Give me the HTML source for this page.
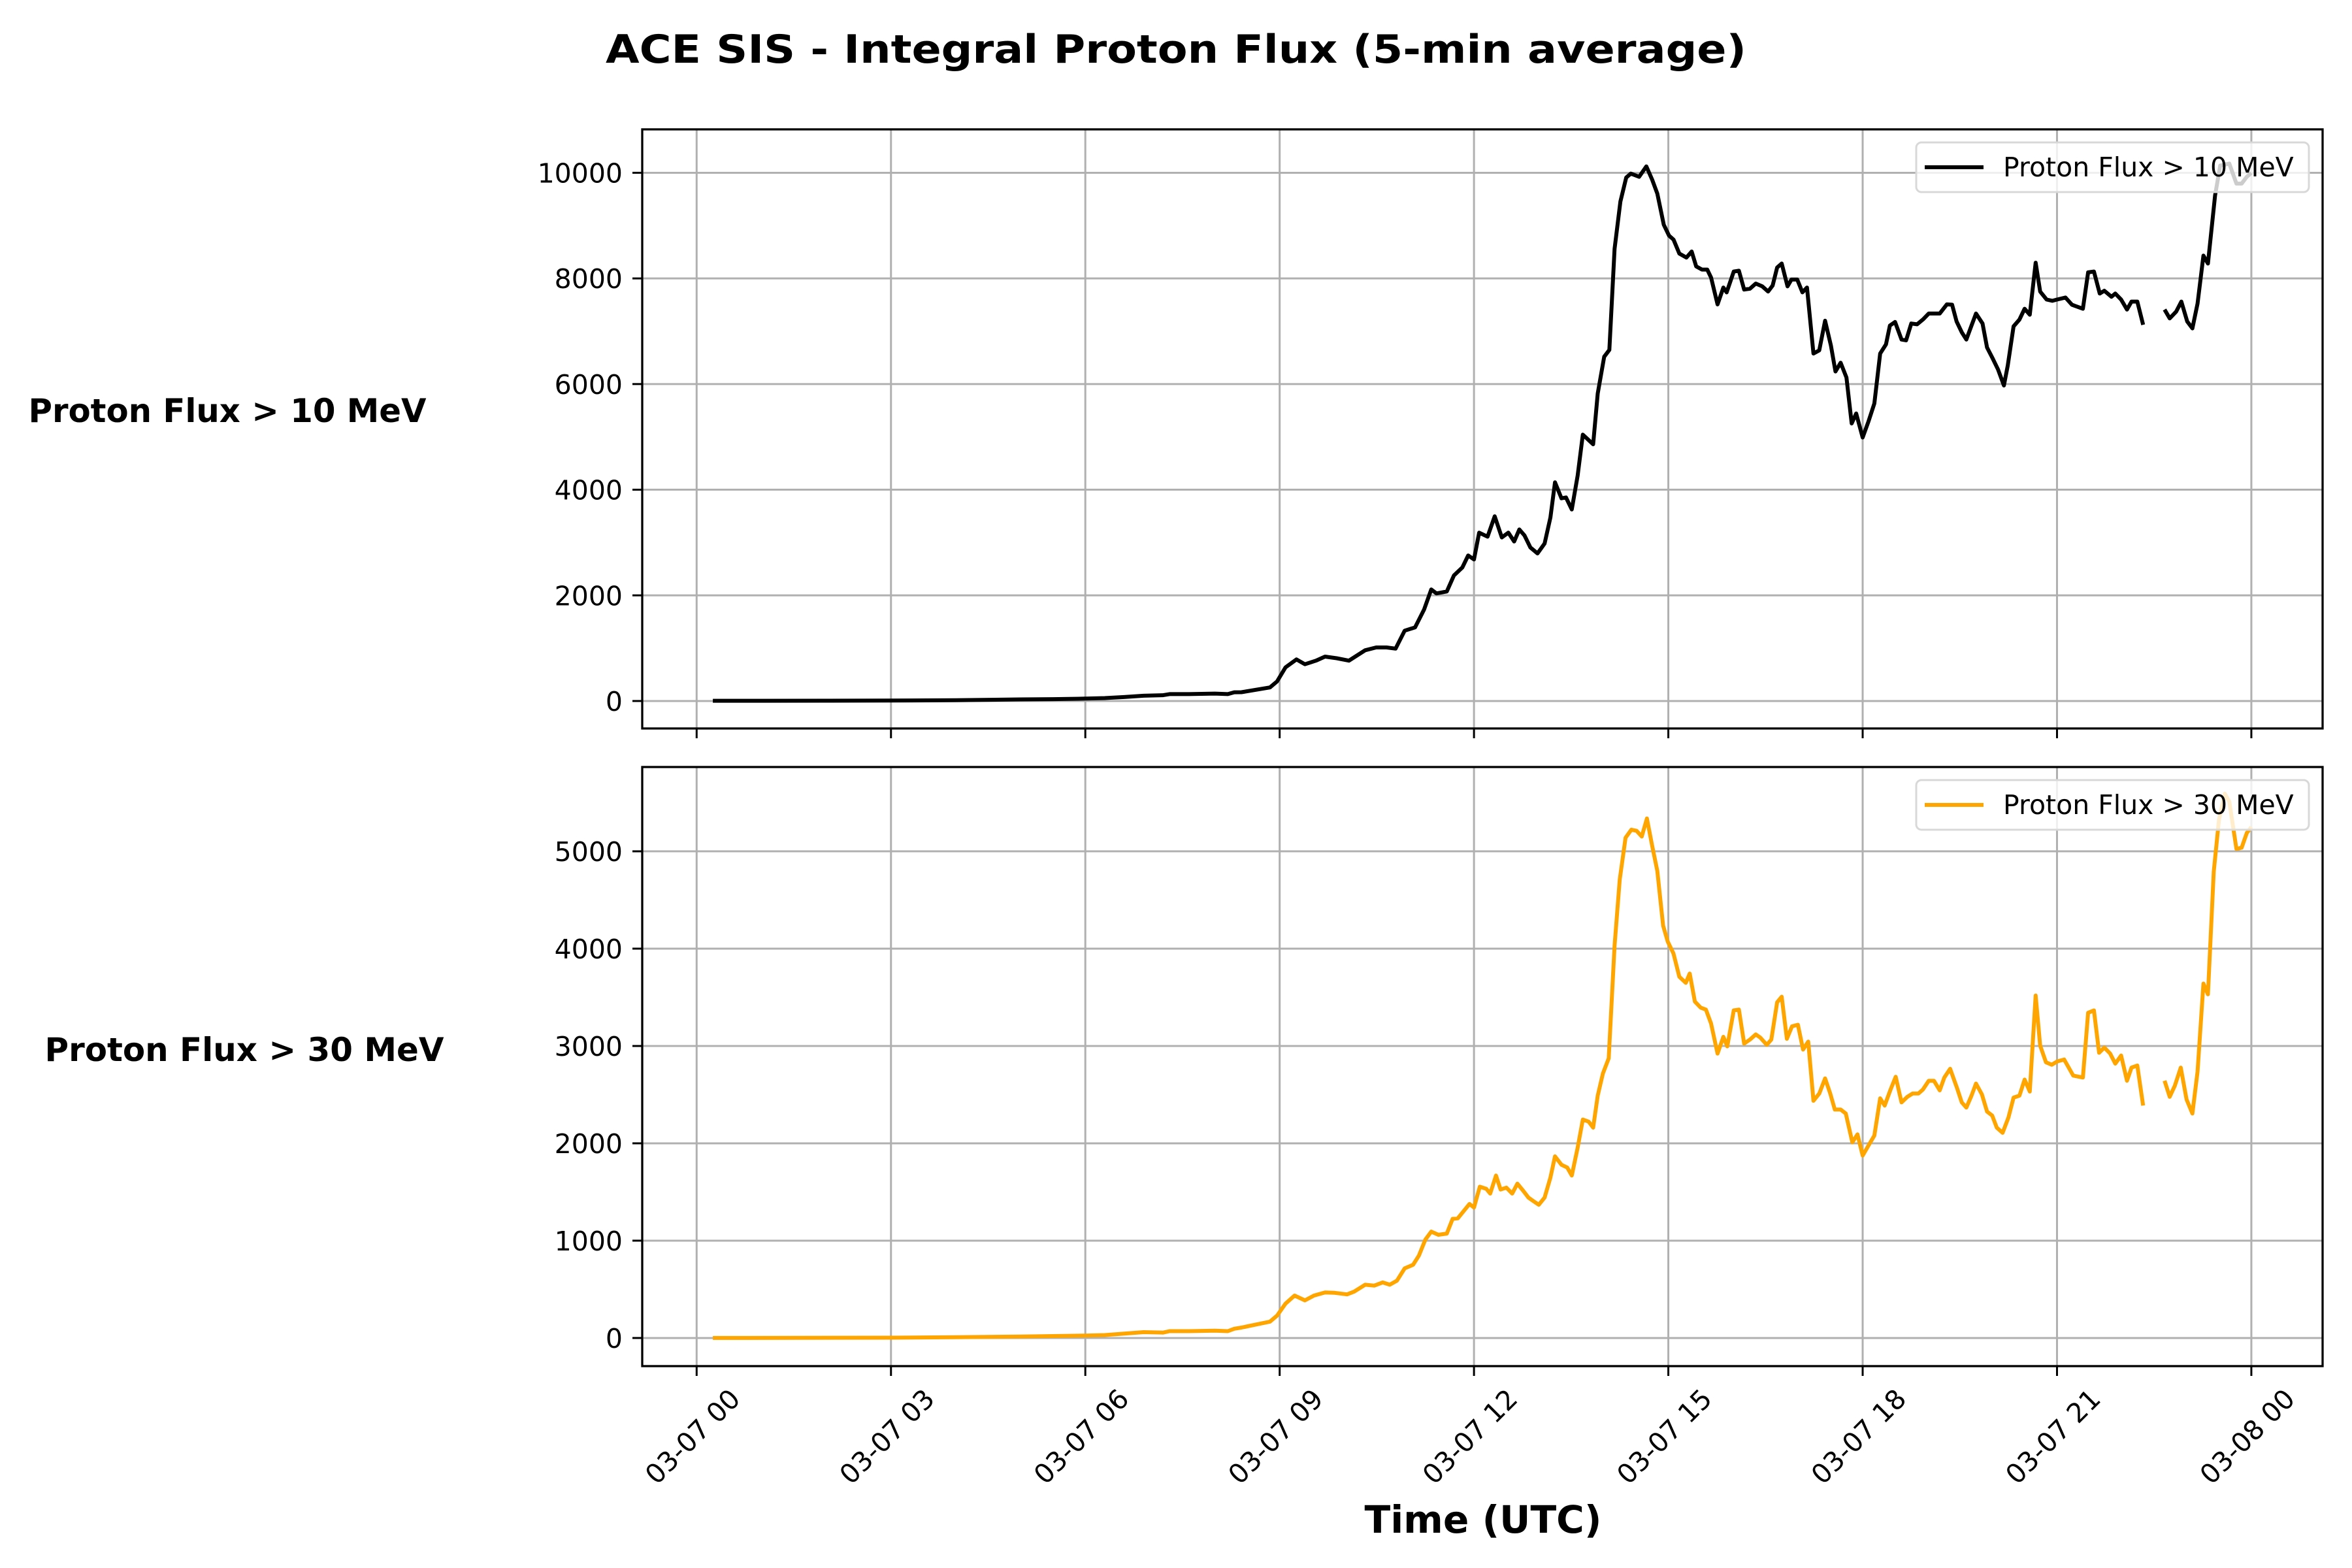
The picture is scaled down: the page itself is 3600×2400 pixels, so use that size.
<!DOCTYPE html>
<html><head><meta charset="utf-8">
<style>
html,body{margin:0;padding:0;background:#fff;}
svg{display:block;font-family:"DejaVu Sans","Liberation Sans",sans-serif;}
</style></head>
<body>
<svg id="chart" width="3600" height="2400" viewBox="0 0 3600 2400" xmlns="http://www.w3.org/2000/svg">
<rect width="3600" height="2400" fill="#fff"/>
<text x="1800" y="96" text-anchor="middle" font-size="60" font-weight="bold" textLength="1746" lengthAdjust="spacingAndGlyphs">ACE SIS - Integral Proton Flux (5-min average)</text>
<text x="348" y="646" text-anchor="middle" font-size="50" font-weight="bold" textLength="609" lengthAdjust="spacingAndGlyphs">Proton Flux &gt; 10 MeV</text>
<text x="374" y="1624" text-anchor="middle" font-size="50" font-weight="bold" textLength="611" lengthAdjust="spacingAndGlyphs">Proton Flux &gt; 30 MeV</text>
<text x="2270" y="2346" text-anchor="middle" font-size="58" font-weight="bold" textLength="363" lengthAdjust="spacingAndGlyphs">Time (UTC)</text>
<g id="top"></g>
<g id="bot"></g>
</svg>
<script>
const xTickHours = [0,3,6,9,12,15,18,21,24];
const xTickLabels = ["03-07 00","03-07 03","03-07 06","03-07 09","03-07 12","03-07 15","03-07 18","03-07 21","03-08 00"];
const topTicks = [0,2000,4000,6000,8000,10000];
const botTicks = [0,1000,2000,3000,4000,5000];

const hours10 = [0.25,1,2,3,4,5,5.5,6,6.3,6.6,6.9,7.2,7.3,7.6,8,8.2,8.3,8.41,8.85,8.96,9.09,9.26,9.39,9.56,9.70,9.88,10.07,10.32,10.49,10.65,10.79,10.93,11.09,11.23,11.34,11.42,11.58,11.69,11.82,11.91,12.0,12.08,12.21,12.32,12.43,12.53,12.62,12.70,12.78,12.87,12.98,13.09,13.18,13.25,13.35,13.42,13.51,13.60,13.68,13.84,13.91,14.01,14.09,14.17,14.26,14.35,14.42,14.55,14.66,14.75,14.83,14.93,15.01,15.08,15.17,15.28,15.36,15.43,15.52,15.60,15.66,15.76,15.85,15.90,16.01,16.09,16.17,16.26,16.35,16.45,16.54,16.61,16.68,16.75,16.84,16.90,16.99,17.07,17.14,17.24,17.33,17.42,17.51,17.58,17.66,17.75,17.83,17.90,18.0,18.09,18.18,18.27,18.36,18.42,18.50,18.60,18.67,18.75,18.84,18.93,19.02,19.10,19.19,19.30,19.38,19.45,19.53,19.60,19.68,19.75,19.85,19.92,20.0,20.09,20.18,20.24,20.33,20.42,20.50,20.58,20.67,20.74,20.84,20.93,21.0,21.13,21.23,21.40,21.48,21.57,21.66,21.73,21.84,21.90,21.99,22.08,22.15,22.24,22.33,22.5,22.66,22.74,22.84,22.92,23.01,23.09,23.17,23.26,23.33,23.44,23.52,23.66,23.77,23.85,23.93,24.0];
const flux10 = [5,5,6,8,15,30,35,45,55,75,100,110,130,130,140,130,165,167,257,371,636,787,696,764,840,810,764,961,1014,1014,992,1332,1393,1733,2112,2036,2074,2377,2528,2755,2680,3187,3111,3497,3096,3187,3020,3247,3134,2907,2793,2982,3475,4141,3838,3853,3626,4270,5042,4860,5821,6518,6646,8562,9455,9909,9985,9924,10121,9871,9606,9016,8811,8736,8471,8395,8509,8228,8168,8168,8017,7509,7827,7736,8130,8145,7789,7805,7903,7850,7752,7865,8206,8282,7850,7979,7979,7736,7827,6578,6639,7199,6730,6238,6404,6124,5254,5443,4989,5292,5632,6578,6752,7108,7176,6843,6828,7146,7131,7222,7335,7335,7335,7509,7502,7184,6980,6843,7108,7335,7146,6692,6503,6276,5973,6351,7093,7222,7426,7313,8297,7752,7600,7577,7600,7638,7502,7426,8115,8130,7714,7767,7653,7714,7600,7411,7562,7562,7123,null,7411,7244,7373,7562,7184,7055,7524,8433,8282,9569,10137,10174,9796,9796,9924,10000];

const hours30 = [0.25,3,4,5,5.5,6,6.3,6.6,6.9,7.2,7.3,7.6,8,8.2,8.3,8.41,8.85,8.96,9.09,9.23,9.39,9.53,9.70,9.85,10.04,10.15,10.32,10.46,10.59,10.70,10.81,10.93,11.06,11.15,11.25,11.34,11.45,11.58,11.67,11.75,11.85,11.93,12.0,12.09,12.19,12.25,12.34,12.41,12.50,12.59,12.67,12.76,12.84,12.91,13.0,13.09,13.18,13.25,13.35,13.44,13.51,13.60,13.68,13.77,13.84,13.91,13.99,14.08,14.17,14.25,14.34,14.43,14.51,14.59,14.67,14.75,14.83,14.92,14.99,15.08,15.17,15.27,15.33,15.41,15.50,15.58,15.66,15.76,15.85,15.91,16.01,16.09,16.17,16.26,16.35,16.42,16.52,16.59,16.68,16.75,16.83,16.91,17.0,17.08,17.16,17.24,17.33,17.42,17.50,17.57,17.66,17.74,17.84,17.92,18.0,18.09,18.18,18.27,18.34,18.43,18.51,18.60,18.69,18.77,18.86,18.93,19.02,19.10,19.19,19.26,19.35,19.46,19.53,19.60,19.68,19.75,19.84,19.92,20.0,20.07,20.16,20.25,20.33,20.42,20.50,20.58,20.67,20.74,20.83,20.92,21.0,21.11,21.25,21.40,21.48,21.57,21.65,21.73,21.82,21.90,21.99,22.08,22.15,22.24,22.33,22.5,22.66,22.74,22.82,22.91,23.0,23.09,23.17,23.26,23.33,23.42,23.50,23.59,23.66,23.77,23.85,23.93,24.0];
const flux30 = [0,3,8,15,20,25,30,45,60,55,70,70,75,70,95,107,168,230,353,436,386,436,468,464,448,477,547,538,571,547,588,715,752,847,1011,1093,1060,1073,1224,1229,1311,1377,1340,1554,1533,1484,1669,1525,1545,1484,1586,1512,1443,1410,1369,1443,1648,1866,1780,1751,1669,1956,2244,2223,2161,2490,2717,2873,4032,4710,5140,5222,5210,5152,5337,5058,4799,4236,4073,3949,3711,3649,3744,3456,3394,3374,3230,2922,3094,2996,3366,3374,3025,3066,3119,3086,3012,3066,3448,3506,3074,3202,3218,2963,3045,2437,2511,2667,2511,2347,2347,2306,2010,2092,1874,1977,2080,2462,2388,2552,2684,2421,2478,2511,2511,2552,2643,2643,2544,2676,2766,2561,2421,2367,2490,2614,2503,2326,2285,2161,2108,2264,2470,2490,2655,2532,3518,3004,2832,2807,2840,2861,2696,2676,3341,3366,2930,2984,2922,2819,2902,2643,2778,2799,2388,null,2643,2478,2593,2778,2450,2306,2737,3641,3531,4792,5325,5592,5510,5025,5037,5189,5250];

const NS = "http://www.w3.org/2000/svg";
const X0 = 983, X1 = 3555, H0 = -0.84, H1 = 25.1;
function xs(h){ return X0 + (h - H0) / (H1 - H0) * (X1 - X0); }
function mk(tag, attrs, parent){ const e = document.createElementNS(NS, tag); for (const k in attrs) e.setAttribute(k, attrs[k]); parent.appendChild(e); return e; }

function panel(g, name, yTop, yBot, vMin, vMax, ticks, hrs, vals, color, legendText, showXLabels){
  const ys = v => yBot - (v - vMin) / (vMax - vMin) * (yBot - yTop);
  
  
  xTickHours.forEach((h, i) => {
    const l = mk('line', {x1: xs(h), x2: xs(h), y1: yTop, y2: yBot, stroke: '#b0b0b0', 'stroke-width': 3}, g);
    
    
    const t = mk('line', {x1: xs(h), x2: xs(h), y1: yBot, y2: yBot + 15, stroke: '#000', 'stroke-width': 3}, g);
    
    
    if (showXLabels) {
      const cx = xs(h) - 6, cy = yBot + 108;
      const tx = mk('text', {x: cx, y: cy + 14, 'text-anchor': 'middle', 'font-size': 41, transform: `rotate(-45 ${cx} ${cy})`}, g);
      tx.textContent = xTickLabels[i];
      
      
    }
  });
  ticks.forEach(v => {
    const l = mk('line', {x1: X0, x2: X1, y1: ys(v), y2: ys(v), stroke: '#b0b0b0', 'stroke-width': 3}, g);
    
    
    const t = mk('line', {x1: X0 - 15, x2: X0, y1: ys(v), y2: ys(v), stroke: '#000', 'stroke-width': 3}, g);
    
    
    const tx = mk('text', {x: X0 - 30, y: ys(v) + 15, 'text-anchor': 'end', 'font-size': 41}, g);
    tx.textContent = String(v);
    
    
  });
  let d = '', pen = false;
  hrs.forEach((h, i) => {
    const v = vals[i];
    if (v === null || v === undefined) { pen = false; return; }
    d += (pen ? 'L' : 'M') + xs(h).toFixed(1) + ',' + ys(v).toFixed(1);
    pen = true;
  });
  const p = mk('path', {d: d, fill: 'none', stroke: color, 'stroke-width': 6, 'stroke-linejoin': 'round'}, g);
  
  
  const f = mk('rect', {x: X0, y: yTop, width: X1 - X0, height: yBot - yTop, fill: 'none', stroke: '#000', 'stroke-width': 3.3}, g);
  
  
  const lg = mk('g', {}, g);
  
  
  const ly = yTop + 20;
  mk('rect', {x: 2933, y: ly, width: 601, height: 76, rx: 8, fill: '#fff', 'fill-opacity': 0.8, stroke: '#d8d8d8', 'stroke-width': 3}, lg);
  const ll = mk('line', {x1: 2946, x2: 3036, y1: ly + 38, y2: ly + 38, stroke: color, 'stroke-width': 6}, lg);
  
  
  const lt = mk('text', {x: 3066, y: ly + 52, 'font-size': 41}, lg);
  lt.textContent = legendText;
  
  
}
panel(document.getElementById('top'), 'flux-10mev', 198, 1115, -520, 10822, topTicks, hours10, flux10, '#000000', 'Proton Flux > 10 MeV', false);
panel(document.getElementById('bot'), 'flux-30mev', 1174, 2091, -289, 5866, botTicks, hours30, flux30, '#ffa500', 'Proton Flux > 30 MeV', true);
</script>
</body></html>
